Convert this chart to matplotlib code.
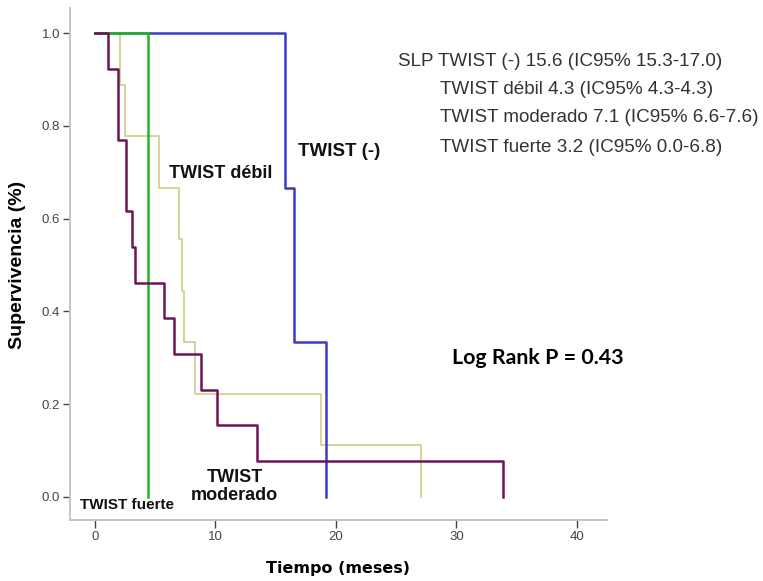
import matplotlib
matplotlib.use("Agg")
import matplotlib.pyplot as plt

# Kaplan-Meier survival estimates by TWIST expression group
tiempo_neg = [0.0, 15.8, 16.5, 19.2]
surv_neg = [1.0, 2/3, 1/3, 0.0]

tiempo_debil = [0.0, 2.1, 2.5, 5.3, 7.0, 7.2, 7.4, 8.3, 18.8, 27.1]
surv_debil = [1.0, 8/9, 7/9, 6/9, 5/9, 4/9, 3/9, 2/9, 1/9, 0.0]

tiempo_moderado = [0.0, 1.1, 1.9, 2.6, 3.05, 3.3, 5.7, 6.55, 8.8, 10.1, 13.45, 33.9]
surv_moderado = [1.0, 12/13, 10/13, 8/13, 7/13, 6/13, 5/13, 4/13, 3/13, 2/13, 1/13, 0.0]

tiempo_fuerte = [0.0, 4.4]
surv_fuerte = [1.0, 0.0]

xticks = [0, 10, 20, 30, 40]
yticks = [0.0, 0.2, 0.4, 0.6, 0.8, 1.0]

resumen = [
    "SLP TWIST (-) 15.6 (IC95% 15.3-17.0)",
    "TWIST débil 4.3 (IC95% 4.3-4.3)",
    "TWIST moderado 7.1 (IC95% 6.6-7.6)",
    "TWIST fuerte 3.2 (IC95% 0.0-6.8)",
]

W, H = 763, 581
fig = plt.figure(figsize=(W / 100, H / 100), dpi=100)
fig.patch.set_facecolor("white")
ax = fig.add_axes([70 / W, 1 - 520 / H, 537 / W, 512 / H])

c_neg = "#3c3cc4"
c_debil = "#d6cf92"
c_mod = "#6e1458"
c_fuerte = "#23b623"

ax.step(tiempo_debil, surv_debil, where="post", color=c_debil, lw=1.3)
ax.step(tiempo_neg, surv_neg, where="post", color=c_neg, lw=1.8)
ax.step(tiempo_fuerte, surv_fuerte, where="post", color=c_fuerte, lw=1.8)
ax.step(tiempo_moderado, surv_moderado, where="post", color=c_mod, lw=1.8)

ax.set_xlim(-2.07, 42.5)
ax.set_ylim(-0.05, 1.054)
ax.set_xticks(xticks)
ax.set_xticklabels([str(t) for t in xticks])
ax.set_yticks(yticks)
ax.set_yticklabels([f"{t:.1f}" for t in yticks])

for s in ("top", "right"):
    ax.spines[s].set_visible(False)
for s in ("left", "bottom"):
    ax.spines[s].set_color("#c4c4c4")
    ax.spines[s].set_linewidth(1.4)

ax.tick_params(axis="x", direction="out", length=6, width=1.0, color="#444444",
               pad=2, labelcolor="#444444", labelsize=9.5)
ax.tick_params(axis="y", direction="out", length=5, width=1.0, color="#444444",
               pad=2, labelcolor="#444444", labelsize=9.5)
for lab in ax.get_xticklabels() + ax.get_yticklabels():
    lab.set_fontfamily("Liberation Sans")

ax.set_xlabel("Tiempo (meses)", fontfamily="DejaVu Sans", fontweight="bold",
              fontsize=11.5, labelpad=13)
fig.text(18 / W, 1 - 265 / H, "Supervivencia (%)", rotation=90,
         ha="center", va="center", fontfamily="Liberation Sans",
         fontweight="bold", fontsize=14)

lbl = dict(fontfamily="Liberation Sans", fontweight="bold", color="#111111")
ax.text(20.3, 0.744, "TWIST (-)", ha="center", va="center", fontsize=13.5, **lbl)
ax.text(10.4, 0.698, "TWIST débil", ha="center", va="center", fontsize=13, **lbl)
ax.text(2.7, -0.017, "TWIST fuerte", ha="center", va="center", fontsize=11, **lbl)
ax.text(11.6, 0.022, "TWIST\nmoderado", ha="center", va="center", fontsize=13,
        linespacing=1.05, **lbl)
ax.text(29.6, 0.30, "Log Rank P = 0.43", ha="left", va="center",
        fontfamily="Lato", fontweight="bold", fontsize=15.4, color="black")

pos = [(398, 62), (440, 90), (440, 118), (440, 147)]
for (px, py), txt in zip(pos, resumen):
    fig.text(px / W, 1 - py / H, txt, ha="left", va="center",
             fontfamily="Liberation Sans", fontsize=13.6, color="#333333")

fig.savefig("out.png", dpi=100, facecolor="white")
